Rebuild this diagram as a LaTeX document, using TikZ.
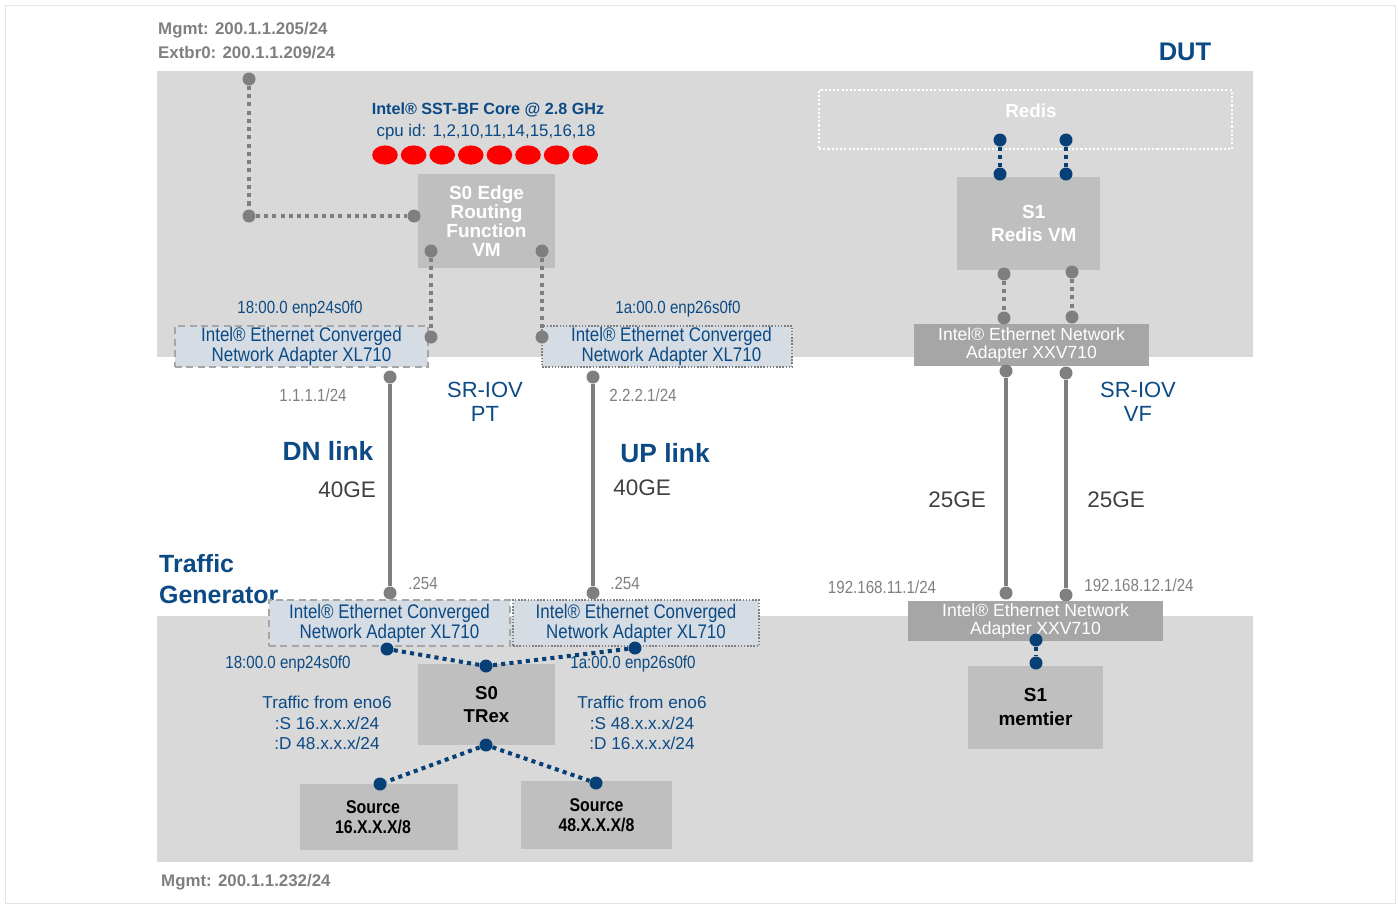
\documentclass[tikz,border=0pt]{standalone}
\usepackage{fontspec}
\setmainfont{Liberation Sans}
\newfontfamily\narrowfont[FakeStretch=0.86]{Liberation Sans}
\usetikzlibrary{backgrounds}
\definecolor{iblue}{HTML}{0B4A84}
\definecolor{idot}{HTML}{073F77}
\definecolor{igray}{HTML}{7F7F7F}
\definecolor{idark}{HTML}{404040}
\definecolor{iband}{HTML}{D9D9D9}
\definecolor{ibox}{HTML}{BFBFBF}
\definecolor{inic}{HTML}{D6DCE4}
\definecolor{ixxv}{HTML}{A6A6A6}
\definecolor{icore}{HTML}{FF0000}

\begin{document}
\begin{tikzpicture}[
  x=.02cm,y=-.02cm,
  band/.style={fill=iband},
  vm/.style={fill=ibox,inner sep=0pt,align=center,text=white,font=\bfseries\fontsize{10.8}{10.8}\selectfont},
  host/.style={fill=ibox,inner sep=0pt,align=center,text=black,font=\bfseries\fontsize{10.6}{13.2}\selectfont},
  src/.style={host,font=\narrowfont\bfseries\fontsize{10.5}{11.4}\selectfont},
  nic/.style={fill=inic,line width=.9pt,inner sep=0pt,align=center,text=iblue,
    font=\narrowfont\fontsize{11.2}{9.9}\selectfont},
  nicdash/.style={nic,draw=ixxv,dash pattern=on 4pt off 2.5pt},
  nicdot/.style={nic,draw=igray,dash pattern=on .9pt off .9pt},
  xxv/.style={fill=ixxv,inner sep=0pt,align=center,text=white,font=\fontsize{10}{9.8}\selectfont},
  port/.style={circle,fill=igray,inner sep=0pt,minimum size=.26cm},
  bport/.style={port,fill=idot},
  link/.style={draw=igray,line width=2.3pt},
  vlink/.style={draw=igray,line width=2.3pt,dash pattern=on 2.3pt off 2.4pt},
  blink/.style={draw=idot,line width=2.3pt,dash pattern=on 2.3pt off 2.4pt},
  title/.style={text=iblue,font=\bfseries\fontsize{15}{17.6}\selectfont},
  note/.style={text=iblue,align=center,font=\fontsize{9.8}{11.7}\selectfont},
  bus/.style={text=iblue,font=\narrowfont\fontsize{10}{11}\selectfont},
  addr/.style={text=igray,font=\narrowfont\fontsize{10}{11}\selectfont},
  mgmt/.style={text=igray,anchor=west,font=\bfseries\fontsize{9.6}{11}\selectfont},
  speed/.style={text=idark,font=\fontsize{12.8}{14}\selectfont},
  sriov/.style={text=iblue,align=center,font=\fontsize{12.5}{13.7}\selectfont}
]
\useasboundingbox (0,0) rectangle (1398,904);

% DUT band on top, traffic generator band below.
\begin{scope}[on background layer]
  \draw[black!10,line width=.5pt] (5,5) rectangle (1395,903);
  \path[band] (157,71) rectangle (1253,357);
  \path[band] (157,616) rectangle (1253,862);
\end{scope}
\node[mgmt] (mgmttop) at (152,30) {Mgmt: 200.1.1.205/24};
\node[mgmt] (extbr) at (152,53) {Extbr0: 200.1.1.209/24};
\node[title,font=\bfseries\fontsize{14.5}{17}\selectfont] (dut) at (1185,52) {DUT};
\node[mgmt] (mgmtbot) at (155,882) {Mgmt: 200.1.1.232/24};

% S0: edge routing VM and its pinned cores.
\node[text=iblue,font=\bfseries\fontsize{9.2}{11}\selectfont] (sstbf) at (488,110)
  {Intel® SST-BF Core @ 2.8 GHz};
\node[text=iblue,font=\fontsize{9.6}{11}\selectfont] (cpuid) at (486,132)
  {cpu id: 1,2,10,11,14,15,16,18};
\foreach \i in {0,...,7}
  \fill[icore] (385+\i*28.6,155) ellipse (12.8 and 9.6);
\node[vm,minimum width=2.74cm,minimum height=1.88cm] (vm) at (486.5,221)
  {S0 Edge\\Routing\\Function\\VM};
\node[nicdash,minimum width=5.06cm,minimum height=.82cm] (dnnic) at (301.5,346.5)
  {Intel® Ethernet Converged\\Network Adapter XL710};
\node[nicdot,minimum width=5.0cm,minimum height=.82cm] (upnic) at (667,346.5)
  {\hspace{5pt}Intel® Ethernet Converged\\\hspace{5pt}Network Adapter XL710};
\node[bus] (dnbus) at (300,309) {18:00.0 enp24s0f0};
\node[bus] (upbus) at (678,309) {1a:00.0 enp26s0f0};

\node[port] (mg1) at (249,79) {};
\node[port] (mg2) at (249,216) {};
\node[port] (mg3) at (414,216) {};
\node[port] (vml) at (431,251) {};
\node[port] (vmr) at (542,251) {};
\node[port] (nicl) at (431,337) {};
\node[port] (nicr) at (542,337) {};
\draw[vlink] (mg1) -- (mg2);
\draw[vlink] (mg2) -- (mg3);
\draw[vlink] (vml) -- (nicl);
\draw[vlink] (vmr) -- (nicr);

% 40GE links to the traffic generator
\node[port] (dna) at (390,377) {};
\node[port] (dnb) at (390,593) {};
\node[port] (upa) at (593,377) {};
\node[port] (upb) at (593,593) {};
\draw[link] (dna) -- (dnb);
\draw[link] (upa) -- (upb);
\node[addr] (dnip) at (313,395) {1.1.1.1/24};
\node[addr] (upip) at (643,395) {2.2.2.1/24};
\node[sriov] (srpt) at (485,402) {SR-IOV\\PT};
\node[title] (dnlink) at (328,451) {DN link};
\node[title] (uplink) at (665,453) {UP link};
\node[speed] (dnspeed) at (347,490) {40GE};
\node[speed] (upspeed) at (642,488) {40GE};
\node[addr] (dngw) at (423,583) {.254};
\node[addr] (upgw) at (625,583) {.254};

% S0: TRex traffic generator
\node[title,align=left,anchor=west,font=\bfseries\fontsize{14.2}{17.6}\selectfont] (tg) at (153,579)
  {Traffic\\Generator};
\node[nicdash,minimum width=4.82cm,minimum height=.92cm] (tgdn) at (389.5,623)
  {Intel® Ethernet Converged\\Network Adapter XL710};
\node[nicdot,minimum width=4.92cm,minimum height=.92cm] (tgup) at (636,623)
  {Intel® Ethernet Converged\\Network Adapter XL710};
\node[bus] (tgdnbus) at (288,664) {18:00.0 enp24s0f0};
\node[bus] (tgupbus) at (633,664) {1a:00.0 enp26s0f0};
\node[host,minimum width=2.74cm,minimum height=1.62cm] (trex) at (486.5,704.5)
  {S0\\TRex};
\node[note] (trafl) at (327,723) {Traffic from eno6\\:S 16.x.x.x/24\\:D 48.x.x.x/24};
\node[note] (trafr) at (642,723) {Traffic from eno6\\:S 48.x.x.x/24\\:D 16.x.x.x/24};
\node[src,minimum width=3.16cm,minimum height=1.32cm] (srcl) at (379,817)
  {\hspace*{-6.8pt}Source\\\hspace*{-6.8pt}16.X.X.X/8};
\node[src,minimum width=3.02cm,minimum height=1.36cm] (srcr) at (596.5,815)
  {Source\\48.X.X.X/8};
\node[bport] (tgl) at (387,649) {};
\node[bport] (tgr) at (635,648) {};
\node[bport] (trt) at (486,666) {};
\node[bport] (trb) at (486,745) {};
\node[bport] (srl) at (380,784) {};
\node[bport] (srr) at (596,783) {};
\draw[blink] (tgl) -- (trt);
\draw[blink] (tgr) -- (trt);
\draw[blink] (trb) -- (srl);
\draw[blink] (trb) -- (srr);

% S1: Redis VM over SR-IOV VF, memtier client
\node[draw=white,line width=1.4pt,dash pattern=on 1.2pt off 1.2pt,
  minimum width=8.26cm,minimum height=1.18cm] (redis) at (1025.5,119.5) {};
\node[text=white,font=\bfseries\fontsize{10.7}{12}\selectfont] (redislbl) at (1031,111) {Redis};
\node[vm,minimum width=2.86cm,minimum height=1.86cm,font=\bfseries\fontsize{10.8}{13.1}\selectfont]
  (redisvm) at (1028.5,223.5) {\hspace{6pt}S1\\\hspace{6pt}Redis VM};
\node[xxv,minimum width=4.7cm,minimum height=.84cm] (dutxxv) at (1031.5,345)
  {Intel® Ethernet Network\\Adapter XXV710};
\node[bport] (rdl) at (1000,140) {};
\node[bport] (rdr) at (1066,140) {};
\node[bport] (rml) at (1000,174) {};
\node[bport] (rmr) at (1066,174) {};
\draw[blink] (rdl) -- (rml);
\draw[blink] (rdr) -- (rmr);
\node[port] (rvl) at (1004,274) {};
\node[port] (rvr) at (1072,272) {};
\node[port] (xvl) at (1004,318) {};
\node[port] (xvr) at (1072,317) {};
\draw[vlink] (rvl) -- (xvl);
\draw[vlink] (rvr) -- (xvr);

\node[port] (xxa) at (1006,371) {};
\node[port] (xxb) at (1006,593) {};
\node[port] (yya) at (1066,373) {};
\node[port] (yyb) at (1066,595) {};
\draw[link] (xxa) -- (xxb);
\draw[link] (yya) -- (yyb);
\node[sriov] (srvf) at (1138,402) {SR-IOV\\VF};
\node[speed] (lspeed) at (957,500) {25GE};
\node[speed] (rspeed) at (1116,500) {25GE};
\node[addr] (lip) at (882,587) {192.168.11.1/24};
\node[addr] (rip) at (1139,585) {192.168.12.1/24};

\node[xxv,minimum width=5.1cm,minimum height=.8cm] (tgxxv) at (1035.5,621)
  {Intel® Ethernet Network\\Adapter XXV710};
\node[host,minimum width=2.7cm,minimum height=1.66cm,font=\bfseries\fontsize{10.8}{13.7}\selectfont]
  (memtier) at (1035.5,707) {S1\\memtier};
\node[bport] (mta) at (1036,640) {};
\node[bport] (mtb) at (1036,663) {};
\draw[blink] (mta) -- (mtb);
\end{tikzpicture}
\end{document}
